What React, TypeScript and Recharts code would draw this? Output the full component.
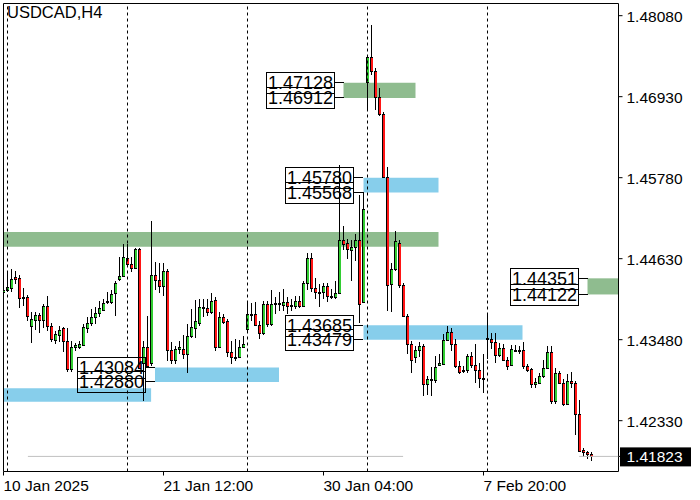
import { Bar, ComposedChart, ReferenceArea, ReferenceDot, ReferenceLine, XAxis, YAxis } from 'recharts';

// USDCAD H4, one value per candle, oldest first
const opens = [
  1.4415, 1.4419, 1.4422, 1.4437, 1.4436, 1.4409, 1.4409, 1.4368, 1.4376, 1.4383,
  1.4376, 1.4396, 1.4368, 1.4347, 1.4355, 1.4364, 1.4346, 1.4306, 1.4337, 1.4338,
  1.4341, 1.4365, 1.4371, 1.4380, 1.4386, 1.4390, 1.4401, 1.4402, 1.4414, 1.4434,
  1.4439, 1.4464, 1.4455, 1.4450, 1.4477, 1.4315, 1.4337, 1.4315, 1.4440, 1.4433,
  1.4424, 1.4445, 1.4334, 1.4319, 1.4335, 1.4335, 1.4327, 1.4353, 1.4365, 1.4372,
  1.4393, 1.4393, 1.4388, 1.4405, 1.4338, 1.4380, 1.4375, 1.4331, 1.4324, 1.4323,
  1.4337, 1.4363, 1.4384, 1.4384, 1.4369, 1.4357, 1.4399, 1.4370, 1.4399, 1.4399,
  1.4397, 1.4402, 1.4396, 1.4396, 1.4403, 1.4396, 1.4429, 1.4464, 1.4422, 1.4415,
  1.4415, 1.4424, 1.4410, 1.4408, 1.4414, 1.4489, 1.4485, 1.4476, 1.4479, 1.4489,
  1.4401, 1.4714, 1.4749, 1.4729, 1.4693, 1.4668, 1.4579, 1.4427, 1.4448, 1.4485,
  1.4426, 1.4382, 1.4342, 1.4323, 1.4334, 1.4339, 1.4285, 1.4291, 1.4291, 1.4312,
  1.4314, 1.4347, 1.4359, 1.4342, 1.4311, 1.4305, 1.4305, 1.4325, 1.4312, 1.4305,
  1.4293, 1.4350, 1.4349, 1.4345, 1.4326, 1.4336, 1.4319, 1.4312, 1.4334, 1.4334,
  1.4333, 1.4310, 1.4306, 1.4285, 1.4287, 1.4297, 1.4308, 1.4331, 1.4261, 1.4301,
  1.4287, 1.4257, 1.4290, 1.4286, 1.4243, 1.4192, 1.4189, 1.4186,
];
const highs = [
  1.4436, 1.4445, 1.4449, 1.4446, 1.4440, 1.4422, 1.4412, 1.4387, 1.4388, 1.4386,
  1.4399, 1.4410, 1.4372, 1.4361, 1.4368, 1.4366, 1.4365, 1.4346, 1.4343, 1.4346,
  1.4370, 1.4380, 1.4391, 1.4394, 1.4403, 1.4406, 1.4415, 1.4418, 1.4432, 1.4465,
  1.4484, 1.4484, 1.4465, 1.4478, 1.4478, 1.4346, 1.4382, 1.4517, 1.4458, 1.4457,
  1.4457, 1.4448, 1.4344, 1.4339, 1.4346, 1.4354, 1.4370, 1.4391, 1.4404, 1.4406,
  1.4406, 1.4406, 1.4414, 1.4408, 1.4387, 1.4384, 1.4378, 1.4346, 1.4349, 1.4347,
  1.4353, 1.4401, 1.4400, 1.4401, 1.4375, 1.4403, 1.4403, 1.4418, 1.4408, 1.4415,
  1.4420, 1.4408, 1.4406, 1.4410, 1.4410, 1.4432, 1.4471, 1.4471, 1.4436, 1.4427,
  1.4428, 1.4429, 1.4420, 1.4432, 1.4596, 1.4509, 1.4491, 1.4489, 1.4498, 1.4553,
  1.4558, 1.4752, 1.4795, 1.4734, 1.4705, 1.4671, 1.4593, 1.4457, 1.4503, 1.4489,
  1.4429, 1.4385, 1.4346, 1.4339, 1.4345, 1.4342, 1.4296, 1.4309, 1.4325, 1.4327,
  1.4356, 1.4368, 1.4365, 1.4349, 1.4318, 1.4311, 1.4327, 1.4330, 1.4342, 1.4315,
  1.4327, 1.4384, 1.4358, 1.4358, 1.4343, 1.4342, 1.4324, 1.4341, 1.4340, 1.4339,
  1.4344, 1.4313, 1.4308, 1.4294, 1.4301, 1.4319, 1.4339, 1.4339, 1.4308, 1.4304,
  1.4292, 1.4299, 1.4302, 1.4289, 1.4263, 1.4194, 1.4190, 1.4189,
];
const lows = [
  1.4413, 1.4415, 1.4415, 1.4427, 1.4393, 1.4396, 1.4375, 1.4343, 1.4362, 1.4358,
  1.4365, 1.4361, 1.4344, 1.4342, 1.4345, 1.4330, 1.4302, 1.4302, 1.4332, 1.4335,
  1.4339, 1.4358, 1.4368, 1.4370, 1.4380, 1.4389, 1.4398, 1.4399, 1.4382, 1.4432,
  1.4437, 1.4455, 1.4444, 1.4449, 1.4306, 1.4261, 1.4308, 1.4311, 1.4418, 1.4414,
  1.4410, 1.4318, 1.4313, 1.4314, 1.4327, 1.4320, 1.4300, 1.4351, 1.4351, 1.4368,
  1.4380, 1.4382, 1.4384, 1.4332, 1.4337, 1.4370, 1.4323, 1.4314, 1.4318, 1.4322,
  1.4336, 1.4361, 1.4375, 1.4368, 1.4349, 1.4355, 1.4366, 1.4368, 1.4384, 1.4389,
  1.4389, 1.4384, 1.4389, 1.4391, 1.4393, 1.4395, 1.4418, 1.4415, 1.4406, 1.4394,
  1.4406, 1.4401, 1.4406, 1.4406, 1.4413, 1.4475, 1.4463, 1.4432, 1.4460, 1.4372,
  1.4400, 1.4672, 1.4724, 1.4674, 1.4665, 1.4577, 1.4389, 1.4387, 1.4446, 1.4422,
  1.4380, 1.4327, 1.4301, 1.4315, 1.4323, 1.4268, 1.4270, 1.4268, 1.4287, 1.4311,
  1.4313, 1.4346, 1.4332, 1.4308, 1.4299, 1.4301, 1.4301, 1.4308, 1.4287, 1.4280,
  1.4273, 1.4321, 1.4335, 1.4315, 1.4324, 1.4318, 1.4305, 1.4310, 1.4330, 1.4327,
  1.4307, 1.4302, 1.4279, 1.4280, 1.4285, 1.4294, 1.4306, 1.4256, 1.4257, 1.4285,
  1.4254, 1.4255, 1.4280, 1.4213, 1.4189, 1.4182, 1.4179, 1.4176,
];
const closes = [
  1.4419, 1.4423, 1.4434, 1.4434, 1.4407, 1.4408, 1.4382, 1.4378, 1.4383, 1.4376,
  1.4396, 1.4368, 1.4349, 1.4356, 1.4362, 1.4346, 1.4307, 1.4337, 1.4340, 1.4342,
  1.4366, 1.4372, 1.4380, 1.4386, 1.4393, 1.4400, 1.4403, 1.4413, 1.4428, 1.4439,
  1.4465, 1.4456, 1.4450, 1.4477, 1.4308, 1.4337, 1.4311, 1.4440, 1.4433, 1.4424,
  1.4445, 1.4334, 1.4319, 1.4335, 1.4337, 1.4327, 1.4353, 1.4366, 1.4375, 1.4394,
  1.4395, 1.4388, 1.4403, 1.4338, 1.4380, 1.4373, 1.4330, 1.4324, 1.4323, 1.4338,
  1.4342, 1.4384, 1.4383, 1.4369, 1.4357, 1.4399, 1.4370, 1.4399, 1.4400, 1.4400,
  1.4402, 1.4396, 1.4397, 1.4403, 1.4396, 1.4429, 1.4464, 1.4422, 1.4415, 1.4416,
  1.4424, 1.4410, 1.4409, 1.4414, 1.4489, 1.4484, 1.4477, 1.4480, 1.4489, 1.4399,
  1.4534, 1.4749, 1.4729, 1.4693, 1.4668, 1.4579, 1.4425, 1.4448, 1.4488, 1.4426,
  1.4382, 1.4342, 1.4319, 1.4334, 1.4339, 1.4285, 1.4292, 1.4292, 1.4309, 1.4315,
  1.4347, 1.4359, 1.4342, 1.4310, 1.4302, 1.4303, 1.4325, 1.4312, 1.4305, 1.4293,
  1.4292, 1.4349, 1.4344, 1.4326, 1.4336, 1.4319, 1.4310, 1.4335, 1.4333, 1.4334,
  1.4310, 1.4305, 1.4285, 1.4288, 1.4297, 1.4308, 1.4331, 1.4261, 1.4301, 1.4287,
  1.4256, 1.4290, 1.4286, 1.4243, 1.4190, 1.4188, 1.4186, 1.41823,
];

const xTickIdx = [0, 40, 80, 120];
const xTickLabels = ['10 Jan 2025', '21 Jan 12:00', '30 Jan 04:00', '7 Feb 20:00'];
const priceTicks = [1.4233, 1.4348, 1.4463, 1.4578, 1.4693, 1.4808];
const lastPrice = 1.41823;
const weekStarts = [1, 31, 61, 91, 121];

// zones as [from bar, to bar, upper price, lower price]
const greenZones = [
  [85, 103, 1.47128, 1.46912],
  [0, 108.75, 1.4501, 1.448],
  [146, 153.75, 1.44351, 1.44122],
];
const blueZones = [
  [90, 108.75, 1.4578, 1.45568],
  [90, 129.75, 1.43685, 1.43479],
  [37.875, 68.875, 1.43084, 1.4288],
  [0, 36.9, 1.4279, 1.426],
];
// price tags drawn left of a zone: [zone start bar, price]
const tags = [
  [85, 1.47128], [85, 1.46912],
  [90, 1.4578], [90, 1.45568],
  [90, 1.43685], [90, 1.43479],
  [146, 1.44351], [146, 1.44122],
  [37.875, 1.43084], [37.875, 1.4288],
];

const X_MAX = 153.75;
const Y_MIN = 1.416085;
const Y_MAX = 1.48253;
const GREEN = '#32cd32';
const RED = '#ff1414';
const FONT = '"Liberation Sans", Arial, sans-serif';

const rows = opens.map((o, i) => ({ i, open: o, high: highs[i], low: lows[i], close: closes[i] }));

const Candle = (props: any) => {
  const { x, y, width, height, payload } = props;
  if (x == null || !payload) return null;
  const top = Math.min(y, y + height);
  const h = Math.abs(height);
  const { open, close, high, low } = payload;
  const py = (v: number) => top + ((high - v) / (high - low)) * h;
  const k = Math.floor(x + width / 2 + 0.01); // pixel column of the wick
  const bTop = Math.round(py(Math.max(open, close)));
  let bBot = Math.round(py(Math.min(open, close))) + 1;
  if (bBot - bTop < 2) bBot = bTop + 2;
  return (
    <g shapeRendering="crispEdges">
      <rect x={k} y={Math.round(top)} width={1} height={Math.max(1, Math.round(top + h) - Math.round(top))} fill="#000" />
      <rect x={k - 1} y={bTop} width={3} height={bBot - bTop} fill="#000" />
      {bBot - bTop > 2 && (
        <rect x={k} y={bTop + 1} width={2} height={bBot - bTop - 2} fill={close >= open ? GREEN : RED} />
      )}
    </g>
  );
};

const PriceTag = ({ cx, cy, text }: any) => {
  const X = Math.round(cx);
  const Y = Math.floor(cy) + 0.5;
  return (
    <g>
      <line x1={X - 9.5} x2={X} y1={Y} y2={Y} stroke="#000" />
      <rect x={X - 77.5} y={Y - 10} width={68} height={21} fill="none" stroke="#000" />
      <text x={X - 76} y={Y + 6.5} fontSize={18} fontFamily={FONT} fill="#000">
        {text}
      </text>
    </g>
  );
};

const PriceTick = ({ x, y, payload }: any) => {
  const v = payload.value;
  if (v === lastPrice) {
    return (
      <g>
        <rect x={620} y={y - 9} width={71} height={19} fill="#000" />
        <text x={x + 1} y={y + 6} fontSize={15.5} fontFamily={FONT} fill="#fff">
          {v.toFixed(5)}
        </text>
      </g>
    );
  }
  return (
    <text x={x + 1} y={y + 6} fontSize={15.5} fontFamily={FONT} fill="#000">
      {v.toFixed(5)}
    </text>
  );
};

const DateTick = ({ x, y, payload }: any) => (
  <text x={x} y={y + 13} fontSize={15.5} fontFamily={FONT} fill="#000">
    {xTickLabels[xTickIdx.indexOf(payload.value)]}
  </text>
);

export default function App() {
  return (
    <div style={{ position: 'absolute', left: 0, top: 0, width: 700, height: 500, background: '#fff' }}>
      <ComposedChart width={700} height={500} data={rows} margin={{ top: 3.5, right: 0, bottom: 0, left: 3.5 }}>
        <XAxis
          type="number"
          dataKey="i"
          domain={[0, X_MAX]}
          allowDataOverflow
          ticks={xTickIdx}
          interval={0}
          height={28.5}
          axisLine={false}
          tickLine={{ stroke: '#000' }}
          tickSize={4}
          tickMargin={2}
          tick={<DateTick />}
        />
        <YAxis
          orientation="right"
          type="number"
          domain={[Y_MIN, Y_MAX]}
          allowDataOverflow
          ticks={[...priceTicks, lastPrice]}
          interval={0}
          width={81.5}
          axisLine={false}
          tickLine={{ stroke: '#000' }}
          tickSize={4}
          tickMargin={3}
          tick={<PriceTick />}
        />
        {greenZones.map(([a, b, hi, lo], k) => (
          <ReferenceArea key={'g' + k} x1={a} x2={b} y1={lo} y2={hi} fill="#8fbc8f" fillOpacity={1} stroke="none" ifOverflow="visible" />
        ))}
        {blueZones.map(([a, b, hi, lo], k) => (
          <ReferenceArea key={'b' + k} x1={a} x2={b} y1={lo} y2={hi} fill="#87ceeb" fillOpacity={1} stroke="none" ifOverflow="visible" />
        ))}
        {weekStarts.map((w) => (
          <ReferenceLine key={'w' + w} x={w} stroke="#000" strokeDasharray="3 3" />
        ))}
        <ReferenceLine segment={[{ x: 6.1, y: lastPrice }, { x: 99.9, y: lastPrice }]} stroke="#c0c0c0" />
        <ReferenceLine segment={[{ x: 143.9, y: lastPrice }, { x: X_MAX, y: lastPrice }]} stroke="#c0c0c0" />
        <Bar dataKey={(d: any) => [d.low, d.high]} shape={Candle} isAnimationActive={false} />
        {tags.map(([bar, price], k) => (
          <ReferenceDot
            key={'t' + k}
            x={bar}
            y={price}
            ifOverflow="visible"
            shape={(p: any) => <PriceTag cx={p.cx} cy={p.cy} text={price.toFixed(5)} />}
          />
        ))}
        <ReferenceArea x1={0} x2={X_MAX} y1={Y_MIN} y2={Y_MAX} fill="none" stroke="#000" ifOverflow="visible" />
      </ComposedChart>
      <div style={{ position: 'absolute', left: 7, top: 3, fontFamily: FONT, fontSize: 16.5, lineHeight: '18px', color: '#000' }}>
        USDCAD,H4
      </div>
    </div>
  );
}
